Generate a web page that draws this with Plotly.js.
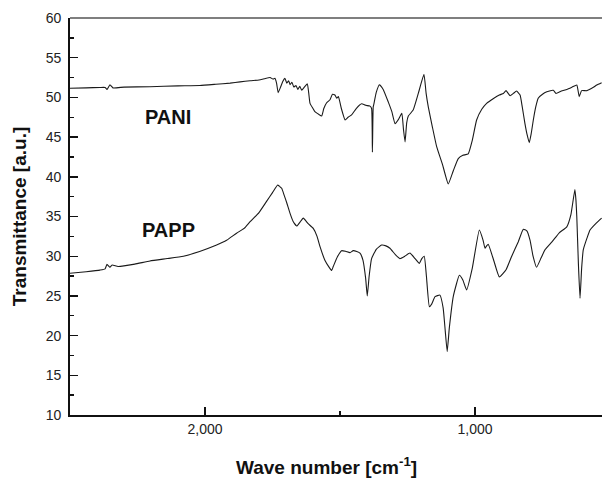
<!DOCTYPE html>
<html>
<head>
<meta charset="utf-8">
<script src="https://cdn.plot.ly/plotly-3.0.1.min.js"></script>
<style>
html,body{margin:0;padding:0;overflow:hidden;background:#fff;}
#chart{width:610px;height:478px;}
</style>
</head>
<body>
<div id="chart"></div>
<script>
// PANI spectrum: wave number [cm-1] and transmittance
var paniWn = [2500,2440,2389,2370,2363,2352,2341,2300,2204,2100,2019,1960,1907,1870,1833,1800,1780,1759,1748,1741,1735,1729,1720,1712,1704,1697,1690,1685,1678,1671,1663,1656,1649,1642,1632,1621,1616,1611,1600,1593,1580,1568,1560,1550,1537,1528,1519,1512,1506,1495,1481,1470,1457,1440,1420,1405,1389,1383,1380,1377,1374,1366,1354,1340,1321,1308,1296,1284,1271,1265,1259,1253,1247,1229,1210,1189,1181,1173,1158,1142,1120,1099,1080,1062,1045,1025,1010,994,975,957,930,910,895,885,870,858,846,833,825,815,807,799,792,784,775,766,750,734,710,700,680,660,640,623,614,605,586,560,549,531];
var paniT  = [51.15,51.2,51.25,51.25,51.0,51.6,51.2,51.3,51.35,51.45,51.5,51.65,51.8,51.95,52.1,52.2,52.35,52.5,52.3,52.4,51.8,50.6,51.3,52.0,52.4,51.8,52.1,51.6,51.9,51.3,51.5,51.0,51.4,50.9,51.3,51.7,50.6,49.25,48.6,48.2,47.9,47.65,48.6,49.3,49.7,50.4,50.3,49.9,50.1,48.6,47.15,47.5,47.8,48.6,49.2,49.0,48.9,48.6,43.1,48.8,49.25,50.6,51.6,51.0,49.4,48.2,46.7,47.2,48.0,46.0,44.4,46.8,47.65,48.4,50.5,52.9,50.5,48.8,46.3,43.8,41.5,39.1,40.8,42.3,42.7,42.9,44.6,47.15,48.5,49.25,49.9,50.3,50.5,50.85,50.2,50.5,50.8,50.3,48.8,46.7,45.3,44.3,45.4,47.15,48.8,49.9,50.4,50.7,50.9,50.5,50.8,51.0,51.3,51.56,50.1,50.85,50.85,51.3,51.56,51.85];

// PAPP spectrum
var pappWn = [2500,2440,2389,2370,2363,2352,2344,2322,2260,2204,2140,2080,2020,1957,1920,1883,1855,1833,1800,1772,1750,1731,1724,1716,1706,1697,1685,1673,1660,1648,1636,1618,1599,1585,1574,1556,1540,1531,1525,1510,1494,1478,1463,1451,1438,1426,1415,1405,1399,1392,1383,1365,1346,1330,1315,1295,1278,1260,1241,1222,1206,1197,1188,1180,1169,1160,1148,1130,1118,1110,1103,1095,1080,1058,1045,1031,1010,984,970,963,957,951,930,910,885,864,840,821,808,796,785,772,755,741,715,688,660,645,630,626,623,617,611,605,599,585,574,550,531];
var pappT  = [27.85,28.05,28.25,28.4,28.97,28.6,28.9,28.7,29.0,29.4,29.7,30.0,30.6,31.4,32.0,32.9,33.5,34.35,35.5,36.9,38.0,38.97,38.8,38.55,37.6,36.7,35.4,34.35,33.8,34.3,34.8,34.1,33.5,32.5,31.2,29.5,28.6,28.2,28.7,29.9,30.7,30.6,30.45,30.7,30.6,30.4,29.5,27.2,25.0,27.5,29.7,30.9,31.4,31.3,31.0,30.2,29.7,30.0,30.4,29.7,29.1,29.7,30.0,27.5,23.65,24.0,24.9,25.1,23.5,20.5,18.0,21.0,25.0,27.6,27.0,25.75,28.5,33.3,32.0,31.0,31.3,31.5,29.4,27.4,28.3,30.0,31.8,33.4,33.2,32.0,30.0,28.6,29.8,30.8,31.8,32.95,33.7,35.2,38.4,37.0,35.0,29.0,24.7,28.5,30.8,32.3,33.3,34.2,34.8];

var xTickVals = [2000,1000];
var xTickText = ['2,000','1,000'];
var yTickVals = [10,15,20,25,30,35,40,45,50,55,60];

var lineStyle = {color:'#1a1a1a', width:1.1, shape:'spline', smoothing:0.4};
var traces = [
  {x:paniWn, y:paniT, type:'scatter', mode:'lines', name:'PANI', line:lineStyle, hoverinfo:'skip'},
  {x:pappWn, y:pappT, type:'scatter', mode:'lines', name:'PAPP', line:lineStyle, hoverinfo:'skip'}
];

var fontFam = 'Liberation Sans, Arial, sans-serif';
var layout = {
  width:610, height:478,
  margin:{l:70, r:0, t:18, b:63},
  paper_bgcolor:'#fff', plot_bgcolor:'#fff',
  showlegend:false,
  font:{family:fontFam, color:'#222'},
  xaxis:{
    range:[2500,500], autorange:false,
    showgrid:false, zeroline:false,
    showline:true, linecolor:'#111', linewidth:1.8,
    ticks:'inside', ticklen:8, tickwidth:1.4, tickcolor:'#111',
    tickvals:xTickVals, ticktext:xTickText,
    tickfont:{size:14, family:fontFam, color:'#222'},
    minor:{tickvals:[1500], ticks:'inside', ticklen:4, tickwidth:1.4, tickcolor:'#111'}
  },
  yaxis:{
    range:[10,60], autorange:false,
    showgrid:false, zeroline:false,
    showline:true, linecolor:'#111', linewidth:1.8,
    ticks:'inside', ticklen:8, tickwidth:1.4, tickcolor:'#111',
    tickvals:yTickVals,
    tickfont:{size:14, family:fontFam, color:'#222'},
    ticklabelstandoff:4,
    minor:{dtick:2.5, ticks:'inside', ticklen:4, tickwidth:1.4, tickcolor:'#111'},
    title:{text:'<b>Transmittance [a.u.]</b>', font:{size:19, family:fontFam, color:'#111'}, standoff:14}
  },
  shapes:[
    {type:'line', xref:'paper', yref:'paper', x0:0, x1:1, y0:1, y1:1, line:{color:'#555', width:1.6}}
  ],
  annotations:[
    {text:'<b>PANI</b>', x:2137, y:47.5, xref:'x', yref:'y', showarrow:false, font:{size:20, family:fontFam, color:'#111'}},
    {text:'<b>PAPP</b>', x:2137, y:33.3, xref:'x', yref:'y', showarrow:false, font:{size:20, family:fontFam, color:'#111'}},
    {text:'<b>Wave number [cm<sup>-1</sup>]</b>', x:(326-70)/540, y:(478-63-466)/(478-18-63), yanchor:'middle', xref:'paper', yref:'paper', showarrow:false, font:{size:19, family:fontFam, color:'#111'}}
  ]
};

Plotly.newPlot('chart', traces, layout, {displayModeBar:false, staticPlot:true});
</script>
</body>
</html>
